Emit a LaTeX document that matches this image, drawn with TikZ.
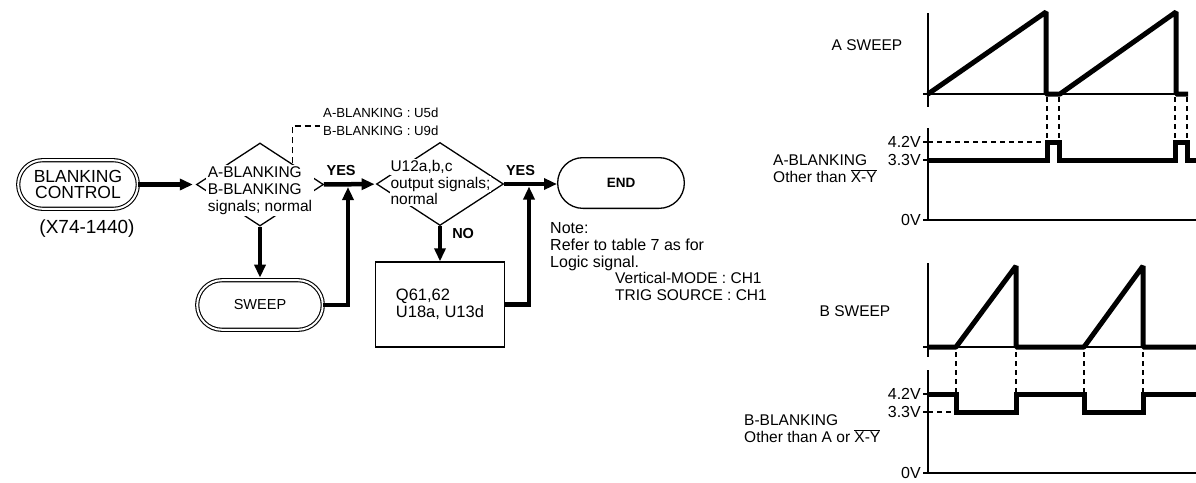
\documentclass[tikz,border=0pt]{standalone}
\usepackage{fontspec}
\setmainfont{Liberation Sans}
\usetikzlibrary{shapes.geometric, arrows.meta, positioning}
\tikzset{>=latex}
\newcommand{\fsz}[2]{\fontsize{#1}{#2}\selectfont}
\newcommand{\maskline}[1]{{\setlength{\fboxsep}{1pt}\colorbox{white}{#1}}}

\begin{document}
\begin{tikzpicture}[
    x = 1pt, y = -1pt,
    every node/.style = {inner sep = 0pt, font = \fsz{15.5}{17}},
    flow/.style = {line width = 4.5pt, -{Triangle[length=13pt, width=11pt]}},
    term/.style = {draw, line width = 1.1pt, double, double distance = 2pt, rectangle},
    endbox/.style = {draw, line width = 1.3pt, rectangle, minimum width = 126.7pt, minimum height = 50.7pt, rounded corners = 25.3pt},
    decide/.style = {draw, line width = 1.3pt, diamond, minimum width = 127pt, minimum height = 83pt},
    tag/.style = {anchor = west, font = \fsz{13.2}{15}},
    yesno/.style = {font = \bfseries\fsz{14.5}{16}},
    tagline/.style = {line width = 1.1pt, dash pattern = on 6pt off 4pt},
    axisline/.style = {line width = 1.2pt},
    waveline/.style = {line width = 5pt},
    guide/.style = {line width = 1.1pt, dash pattern = on 5pt off 4pt},
    volt/.style = {anchor = east, font = \fsz{16}{17}}
]
\useasboundingbox (0,0) rectangle (1196,482);

% flow chart
\node[term, minimum width = 119.6pt, minimum height = 48.6pt, rounded corners = 24.3pt, align = center, font = \fsz{17.5}{16.5}] (ctrl) at (78,184.5) {BLANKING\\CONTROL};
\node[font = \fsz{19}{21}] (part) at (87,229) {(X74-1440)};

\node[decide] (diaA) at (260,184.5) {};
\node[fill = white, inner sep = 1.5pt, align = left] (diaAtxt) at (260,190.5) {A-BLANKING\\B-BLANKING\\signals; normal};

\node[decide] (diaB) at (440,184) {};
\node[align = left, font = \fsz{15.5}{16.5}] (diaBtxt) at (440.5,182.5) {\maskline{U12a,b,c}\\\maskline{output signals;}\\\maskline{normal}};

\node[term, minimum width = 125.6pt, minimum height = 49.6pt, rounded corners = 24.8pt, font = \fsz{14.5}{16}] (sweep) at (260,305) {SWEEP};
\node[draw, line width = 1.3pt, minimum width = 129pt, minimum height = 85pt, align = left, font = \fsz{16.5}{17}] (fix) at (440,304.5) {Q61,62\\U18a, U13d};
\node[endbox, font = \bfseries\fsz{13.5}{15}] (done) at (621,183) {END};

\node[tag] (tagA) at (323,113) {A-BLANKING : U5d};
\node[tag] (tagB) at (323,131) {B-BLANKING : U9d};
\draw[tagline, shorten >= 3pt] (diaA.north east) |- (tagB.north west);

\coordinate (jA) at (348,184.5);
\coordinate (jB) at (529,184);

\draw[flow, shorten >= 3pt] (ctrl) -- (diaA);
\draw[flow, shorten >= 1.5pt] (diaA) -- node[yesno, pos = 0.33, above = 6pt] (yesA) {YES} (diaB);
\draw[flow, shorten >= 2pt] (diaA) -- (sweep);
\draw[flow, shorten >= 2.5pt] (sweep.east) -| (jA);
\draw[flow] (diaB) -- node[yesno, pos = 0.2, right = 10pt] (noB) {NO} (fix);
\draw[flow, shorten >= 2.5pt] (fix.east) -| (jB);
\draw[flow] (diaB.east) -- node[yesno, pos = 0.31, above = 6pt] (yesB) {YES} (diaB.east -| done.west);

\node[anchor = north west, align = left, font = \fsz{16}{16.8}] (note) at (550,222.5) {Note:\\Refer to table 7 as for\\Logic signal.};
\node[anchor = north west, align = left] (mode) at (615,272.5) {Vertical-MODE : CH1\\TRIG SOURCE : CH1};

% A sweep and A blanking
\node (aSweep) at (867,45) {A SWEEP};
\draw[axisline] (928,13) -- (928,107);
\draw[axisline] (923,94) -- (1188,94);
\draw[waveline, line join = bevel] (928,94) -- (1046,12) -- (1046,94) -- (1060,94) -- (1176,12) -- (1176,94) -- (1188,94);
\foreach \x in {1047,1059,1175,1187}
    \draw[guide] (\x,97) -- (\x,142);

\draw[axisline] (928,128) -- (928,220) -- (1196,220);
\foreach \y in {142,160,220}
    \draw[axisline] (923,\y) -- (928,\y);
\draw[guide] (928,142) -- (1047,142);
\draw[waveline] (928,160) -- (1047,160) -- (1047,142) -- (1059,142) -- (1059,160) -- (1175,160) -- (1175,142) -- (1187,142) -- (1187,160) -- (1196,160);
\node[volt] (aHi) at (921,142) {4.2V};
\node[volt] (aMid) at (921,160) {3.3V};
\node[volt] (aZero) at (921,220) {0V};
\node[anchor = north west, align = left] (aName) at (773,154.5) {A-BLANKING\\Other than $\overline{\mbox{X-Y}}$};

% B sweep and B blanking
\node (bSweep) at (855,311) {B SWEEP};
\draw[axisline] (928,263) -- (928,357);
\draw[axisline] (923,347) -- (1196,347);
\draw[waveline, line join = bevel] (928,347) -- (956,347) -- (1016,266) -- (1016,347) -- (1084,347) -- (1143,266) -- (1143,347) -- (1196,347);
\foreach \x in {956,1016,1084,1143}
    \draw[guide] (\x,352) -- (\x,394);

\draw[axisline] (928,370) -- (928,473) -- (1196,473);
\foreach \y in {394,412,473}
    \draw[axisline] (923,\y) -- (928,\y);
\draw[guide] (928,412) -- (956,412);
\draw[waveline] (928,394) -- (956,394) -- (956,412) -- (1016,412) -- (1016,394) -- (1084,394) -- (1084,412) -- (1143,412) -- (1143,394) -- (1196,394);
\node[volt] (bHi) at (921,394) {4.2V};
\node[volt] (bMid) at (921,412) {3.3V};
\node[volt] (bZero) at (921,473) {0V};
\node[anchor = north west, align = left] (bName) at (744,414.5) {B-BLANKING\\Other than A or $\overline{\mbox{X-Y}}$};

\end{tikzpicture}
\end{document}
